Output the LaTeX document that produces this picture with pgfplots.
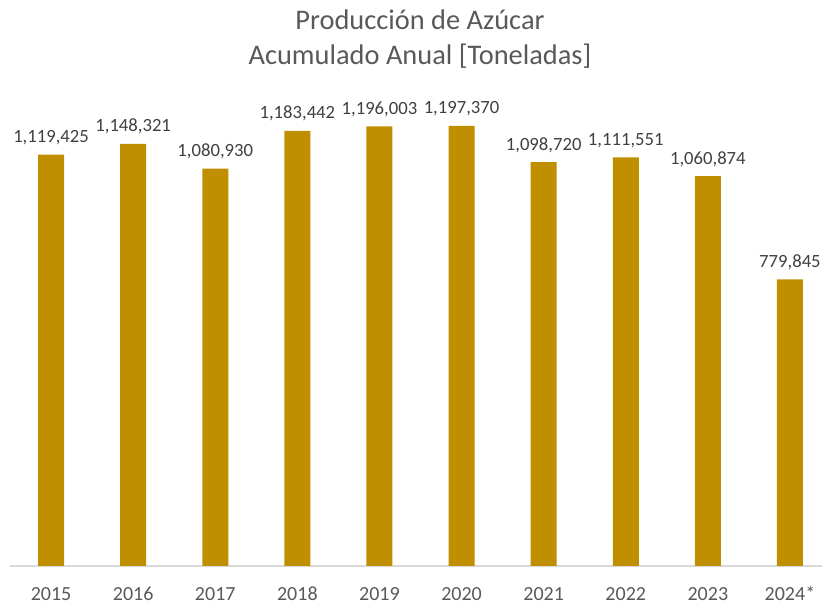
\documentclass[border=0pt]{standalone}
\usepackage{pgfplots}
\pgfplotsset{compat=1.18}
\usepackage{fontspec}
\setmainfont{Carlito}
\definecolor{bargold}{HTML}{BF8F00}
\definecolor{titlegray}{HTML}{595959}
\definecolor{labelgray}{HTML}{404040}
\definecolor{axgray}{HTML}{D9D9D9}
\begin{document}
\begin{tikzpicture}
\begin{axis}[
  at={(0,0)}, anchor=south west,
  scale only axis,
  width=615.75pt, height=358.4pt,
  xmin=-0.5, xmax=9.5,
  ymin=0, ymax=1300000,
  ybar, bar width=19.5pt,
  bar shift=0pt,
  hide y axis,
  axis x line*=bottom,
  x axis line style={-, draw=axgray, line width=0.8pt},
  major tick length=0pt,
  xtick={0,1,2,3,4,5,6,7,8,9},
  xticklabels={2015,2016,2017,2018,2019,2020,2021,2022,2023,2024*},
  xticklabel style={anchor=base, yshift=-26pt, font=\fontsize{15}{18}\selectfont, text=titlegray},
  /pgf/number format/assume math mode=true,
  point meta=explicit symbolic,
  nodes near coords,
  every node near coord/.style={anchor=base, yshift=9pt, font=\fontsize{14}{17}\selectfont, text=labelgray},
  clip=false,
]
\addplot[fill=bargold, draw=none] coordinates {
  (0,1119425) [1,119,425]
  (1,1148321) [1,148,321]
  (2,1080930) [1,080,930]
  (3,1183442) [1,183,442]
  (4,1196003) [1,196,003]
  (5,1197370) [1,197,370]
  (6,1098720) [1,098,720]
  (7,1111551) [1,111,551]
  (8,1060874) [1,060,874]
  (9,779845) [779,845]
};
\end{axis}
\node[anchor=base, text=titlegray, font=\fontsize{21.3}{25}\selectfont] at (307.5pt,402pt) {Producción de Azúcar};
\node[anchor=base, text=titlegray, font=\fontsize{21.3}{25}\selectfont] at (307.5pt,375.75pt) {Acumulado Anual [Toneladas]};
\pgfresetboundingbox
\path[use as bounding box] (-7.5pt,-30.75pt) rectangle (609pt,424.5pt);
\end{tikzpicture}
\end{document}
